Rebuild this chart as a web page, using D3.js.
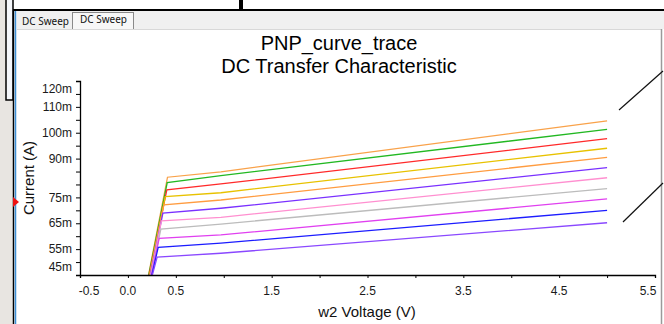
<!DOCTYPE html>
<head>
    <meta charset="utf-8">
    <script src="https://d3js.org/d3.v7.min.js"></script>
    <style>
        body { margin: 0; background: #fff; }
        svg { display: block; }
        .tick-label { font: 12px "Liberation Sans", Arial, sans-serif; fill: #1a1a1a; }
        .title { font: 20px "Liberation Sans", Arial, sans-serif; fill: #000; }
        .axis-title { font: 15px "Liberation Sans", Arial, sans-serif; fill: #111; }
        .tab { font: 10px "Noto Sans", "DejaVu Sans", sans-serif; fill: #111; }
    </style>
</head>
<body>
    <div id='chart-container'></div>
</body>

<script>
    // one curve per base-current step (V, mA)
    var curveColors = ['#f9a24a', '#22b822', '#ff2a2a', '#e8c200', '#ff9c40', '#7a30ff',
                       '#ff8fd0', '#bcbcbc', '#e040f0', '#1c1cff', '#8a48ff'];
    var startV = [0.215, 0.218, 0.222, 0.226, 0.229, 0.233, 0.237, 0.241, 0.245, 0.250, 0.255];
    var startI = [45, 45, 45, 45, 45, 45, 45, 45, 45, 45, 45];
    var kneeV  = [0.413, 0.410, 0.406, 0.390, 0.375, 0.365, 0.350, 0.344, 0.326, 0.316, 0.305];
    var kneeI  = [82.8, 80.7, 77.9, 75.3, 72.1, 68.9, 65.9, 62.7, 59.2, 55.7, 51.9];
    var midV   = [0.97, 0.97, 0.97, 0.97, 0.97, 0.97, 0.97, 0.97, 0.97, 0.97, 0.97];
    var midI   = [84.9, 83.4, 80.2, 76.8, 74.0, 70.8, 67.3, 64.7, 60.5, 57.3, 53.4];
    var endV   = [5.0, 5.0, 5.0, 5.0, 5.0, 5.0, 5.0, 5.0, 5.0, 5.0, 5.0];
    var endI   = [104.6, 101.3, 97.7, 94.0, 90.5, 86.5, 82.6, 78.4, 74.4, 70.0, 65.2];

    // axis ticks
    var yLabelValues = [120, 110, 100, 90, 75, 65, 55, 45];
    var yMinorValues = d3.range(45, 120.01, 5);
    var xLabelValues = [-0.5, 0.0, 0.5, 1.5, 2.5, 3.5, 4.5, 5.5];
    var xMinorValues = d3.range(-0.5, 5.51, 0.5);

    var W = 664, H = 324;
    var plot = { left: 80, right: 655, top: 81, bottom: 275 };

    var svg = d3.select("#chart-container").append("svg")
        .attr("width", W)
        .attr("height", H);

    // ---- window chrome ----
    svg.append('rect').attr('x', 0).attr('y', 0).attr('width', 13).attr('height', H).attr('fill', '#e8e5e1');
    svg.append('rect').attr('x', 6).attr('y', -2).attr('width', 7).attr('height', 102)
        .attr('fill', '#f4f6fa').attr('stroke', '#000').attr('stroke-width', 1.5);
    svg.append('line').attr('x1', 13.5).attr('x2', 13.5).attr('y1', 10).attr('y2', H).attr('stroke', '#000').attr('stroke-width', 1.5);
    svg.append('line').attr('x1', 15.5).attr('x2', 15.5).attr('y1', 11).attr('y2', H).attr('stroke', '#3d8fd6').attr('stroke-width', 1.5);
    svg.append('line').attr('x1', 13).attr('x2', W).attr('y1', 10).attr('y2', 10).attr('stroke', '#000').attr('stroke-width', 2);
    svg.append('line').attr('x1', 241).attr('x2', 241).attr('y1', 0).attr('y2', 10).attr('stroke', '#000').attr('stroke-width', 4);

    // tab strip
    svg.append('rect').attr('x', 17).attr('y', 11).attr('width', W - 17).attr('height', 18).attr('fill', '#f0f0f0');
    svg.append('rect').attr('x', 72.5).attr('y', 12.5).attr('width', 61).attr('height', 17)
        .attr('fill', '#f7f7f7').attr('stroke', '#8a8a8a');
    svg.append('text').attr('class', 'tab').attr('x', 22).attr('y', 24.5).text('DC Sweep');
    svg.append('text').attr('class', 'tab').attr('x', 80).attr('y', 23).text('DC Sweep');
    svg.append('line').attr('x1', 17).attr('x2', 661).attr('y1', 29.5).attr('y2', 29.5).attr('stroke', '#d8d8d8');
    svg.append('line').attr('x1', 661.5).attr('x2', 661.5).attr('y1', 29).attr('y2', H).attr('stroke', '#9a9a9a').attr('stroke-width', 1.5);

    // red marker on the left edge
    svg.append('path').attr('d', 'M13,197 L19,202 L13,207 Z').attr('fill', '#ee1111');

    // ---- scales ----
    var x = d3.scaleLinear().domain([-0.5, 5.5]).range([plot.left, plot.right]);
    var y = d3.scaleLinear().domain([45, 120]).range([plot.bottom, plot.top]);

    // titles
    svg.append('text').attr('class', 'title').attr('x', 339).attr('y', 50)
        .attr('text-anchor', 'middle').text('PNP_curve_trace');
    svg.append('text').attr('class', 'title').attr('x', 339).attr('y', 73)
        .attr('text-anchor', 'middle').text('DC Transfer Characteristic');

    // clip for the curves
    svg.append('clipPath').attr('id', 'plot-clip')
        .append('rect')
        .attr('x', plot.left).attr('y', plot.top)
        .attr('width', plot.right - plot.left).attr('height', plot.bottom - plot.top);

    var line = d3.line()
        .x(function(d){ return x(d[0]); })
        .y(function(d){ return y(d[1]); });

    var curves = curveColors.map(function(c, i){
        return {
            color: c,
            pts: [[startV[i], startI[i]], [kneeV[i], kneeI[i]], [midV[i], midI[i]], [endV[i], endI[i]]]
        };
    });

    svg.append('g').attr('clip-path', 'url(#plot-clip)')
        .selectAll('path')
        .data(curves)
        .enter()
        .append('path')
        .attr('d', function(d){ return line(d.pts); })
        .attr('fill', 'none')
        .attr('stroke', function(d){ return d.color; })
        .attr('stroke-width', 1.3);

    // ---- y axis ----
    var yAxis = d3.axisLeft(y).tickValues(yMinorValues).tickSize(4).tickFormat('');
    svg.append('g')
        .attr('class', 'y axis')
        .attr('transform', 'translate(' + plot.left + ',0)')
        .call(yAxis);

    svg.selectAll('.y-label')
        .data(yLabelValues)
        .enter()
        .append('text')
        .attr('class', 'tick-label y-label')
        .attr('x', 72)
        .attr('y', function(d){
            // the end labels are pushed inside the axis
            var p = y(d);
            if (d === 120) p += 8;
            if (d === 45) p -= 8;
            return p;
        })
        .attr('dy', '0.35em')
        .attr('text-anchor', 'end')
        .text(function(d){ return d + 'm'; });

    // ---- x axis ----
    var xAxis = d3.axisBottom(x).tickValues(xMinorValues).tickSize(3).tickFormat('');
    svg.append('g')
        .attr('class', 'x axis')
        .attr('transform', 'translate(0,' + plot.bottom + ')')
        .call(xAxis);

    svg.selectAll('.x-label')
        .data(xLabelValues)
        .enter()
        .append('text')
        .attr('class', 'tick-label x-label')
        .attr('x', function(d){
            var p = x(d);
            if (d === -0.5) p += 9;
            if (d === 5.5) p -= 7;
            return p;
        })
        .attr('y', 291)
        .attr('dy', '0.35em')
        .attr('text-anchor', 'middle')
        .text(function(d){ return d.toFixed(1); });

    svg.selectAll('.axis path.domain').attr('stroke', '#000').attr('stroke-width', 1.3);
    svg.selectAll('.axis line').attr('stroke', '#000');

    // axis titles
    svg.append('text').attr('class', 'axis-title')
        .attr('transform', 'translate(34,178) rotate(-90)')
        .attr('text-anchor', 'middle')
        .text('Current (A)');
    svg.append('text').attr('class', 'axis-title')
        .attr('x', 367).attr('y', 317)
        .attr('text-anchor', 'middle')
        .text('w2 Voltage (V)');

    // pointer lines on the right
    svg.append('line').attr('x1', 619).attr('y1', 110).attr('x2', 663).attr('y2', 71)
        .attr('stroke', '#111').attr('stroke-width', 1.2);
    svg.append('line').attr('x1', 623).attr('y1', 222).attr('x2', 663).attr('y2', 183)
        .attr('stroke', '#111').attr('stroke-width', 1.2);
</script>
